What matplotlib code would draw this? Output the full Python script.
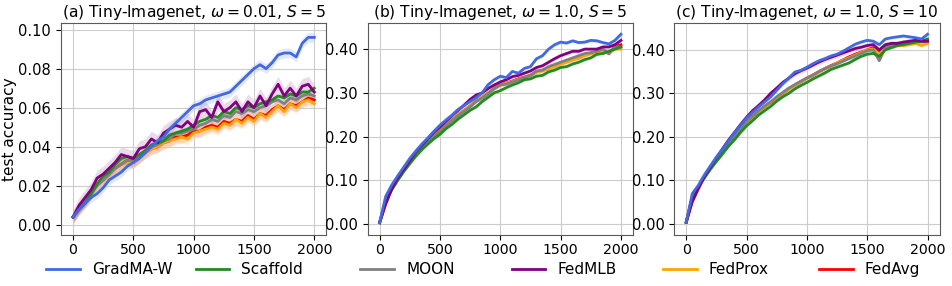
import numpy as np
import matplotlib.pyplot as plt

rounds = np.arange(0, 2001, 50)
names = ['GradMA-W', 'Scaffold', 'MOON', 'FedMLB', 'FedProx', 'FedAvg']
colors = ['royalblue', 'forestgreen', 'grey', 'purple', 'orange', 'red']
titles = [r'(a) Tiny-Imagenet, $\omega=0.01$, $S=5$',
          r'(b) Tiny-Imagenet, $\omega=1.0$, $S=5$',
          r'(c) Tiny-Imagenet, $\omega=1.0$, $S=10$']

# panel (a)
a_gradma = [0.004, 0.008, 0.011, 0.014, 0.016, 0.019, 0.023, 0.025, 0.027, 0.030, 0.032, 0.034, 0.037, 0.040,
            0.043, 0.045, 0.049, 0.052, 0.055, 0.058, 0.061, 0.062, 0.064, 0.065, 0.066, 0.067, 0.068, 0.071,
            0.074, 0.077, 0.080, 0.082, 0.080, 0.083, 0.087, 0.088, 0.088, 0.086, 0.093, 0.096, 0.096]
a_scaffold = [0.004, 0.008, 0.011, 0.016, 0.021, 0.025, 0.027, 0.031, 0.034, 0.035, 0.034, 0.036, 0.038, 0.041,
              0.042, 0.043, 0.046, 0.047, 0.048, 0.049, 0.051, 0.053, 0.054, 0.056, 0.055, 0.058, 0.057, 0.060,
              0.059, 0.061, 0.060, 0.062, 0.063, 0.064, 0.066, 0.065, 0.067, 0.066, 0.068, 0.068, 0.070]
a_moon = [0.004, 0.008, 0.012, 0.016, 0.020, 0.023, 0.026, 0.029, 0.031, 0.033, 0.033, 0.035, 0.038, 0.040,
          0.041, 0.043, 0.044, 0.047, 0.047, 0.048, 0.049, 0.051, 0.052, 0.054, 0.053, 0.056, 0.055, 0.058,
          0.057, 0.059, 0.058, 0.060, 0.061, 0.063, 0.064, 0.062, 0.065, 0.064, 0.066, 0.067, 0.066]
a_fedmlb = [0.004, 0.010, 0.014, 0.018, 0.024, 0.026, 0.029, 0.032, 0.036, 0.035, 0.034, 0.039, 0.040, 0.044,
            0.042, 0.047, 0.049, 0.051, 0.050, 0.053, 0.050, 0.058, 0.059, 0.055, 0.063, 0.058, 0.060, 0.063,
            0.058, 0.063, 0.060, 0.066, 0.061, 0.067, 0.072, 0.066, 0.070, 0.066, 0.071, 0.072, 0.068]
a_fedprox = [0.004, 0.008, 0.012, 0.016, 0.020, 0.023, 0.026, 0.029, 0.031, 0.032, 0.032, 0.034, 0.037, 0.039,
             0.040, 0.042, 0.043, 0.044, 0.045, 0.044, 0.047, 0.048, 0.049, 0.050, 0.049, 0.052, 0.051, 0.054,
             0.052, 0.055, 0.053, 0.057, 0.055, 0.058, 0.061, 0.058, 0.062, 0.060, 0.063, 0.064, 0.062]
a_fedavg = [0.004, 0.008, 0.012, 0.016, 0.021, 0.023, 0.026, 0.029, 0.031, 0.033, 0.032, 0.035, 0.037, 0.039,
            0.040, 0.042, 0.043, 0.045, 0.045, 0.046, 0.048, 0.048, 0.050, 0.051, 0.050, 0.053, 0.052, 0.054,
            0.053, 0.056, 0.054, 0.057, 0.056, 0.059, 0.061, 0.059, 0.062, 0.061, 0.063, 0.065, 0.064]

# panel (b)
b_gradma = [0.003, 0.063, 0.089, 0.110, 0.130, 0.150, 0.167, 0.183, 0.197, 0.212, 0.226, 0.238, 0.249, 0.262,
            0.271, 0.280, 0.289, 0.300, 0.319, 0.330, 0.338, 0.335, 0.349, 0.345, 0.356, 0.360, 0.378, 0.385,
            0.400, 0.410, 0.416, 0.414, 0.419, 0.415, 0.416, 0.420, 0.419, 0.415, 0.412, 0.420, 0.434]
b_scaffold = [0.003, 0.050, 0.078, 0.100, 0.120, 0.138, 0.155, 0.170, 0.183, 0.195, 0.205, 0.218, 0.228, 0.240,
              0.250, 0.260, 0.268, 0.280, 0.290, 0.300, 0.305, 0.312, 0.318, 0.323, 0.330, 0.332, 0.338, 0.340,
              0.348, 0.352, 0.358, 0.360, 0.366, 0.370, 0.376, 0.380, 0.388, 0.390, 0.395, 0.400, 0.405]
b_moon = [0.003, 0.052, 0.080, 0.103, 0.123, 0.142, 0.160, 0.175, 0.190, 0.200, 0.212, 0.225, 0.237, 0.248,
          0.258, 0.268, 0.280, 0.288, 0.298, 0.310, 0.318, 0.320, 0.325, 0.330, 0.335, 0.340, 0.350, 0.352,
          0.360, 0.365, 0.370, 0.375, 0.380, 0.385, 0.390, 0.392, 0.395, 0.400, 0.390, 0.405, 0.405]
b_fedmlb = [0.003, 0.045, 0.080, 0.105, 0.125, 0.145, 0.165, 0.180, 0.195, 0.210, 0.222, 0.235, 0.248, 0.260,
            0.272, 0.285, 0.295, 0.300, 0.310, 0.318, 0.325, 0.330, 0.337, 0.340, 0.345, 0.350, 0.358, 0.362,
            0.370, 0.378, 0.385, 0.390, 0.395, 0.395, 0.400, 0.400, 0.400, 0.405, 0.405, 0.410, 0.420]
b_fedprox = [0.003, 0.052, 0.080, 0.103, 0.123, 0.142, 0.160, 0.176, 0.190, 0.200, 0.213, 0.226, 0.238, 0.250,
             0.260, 0.270, 0.282, 0.290, 0.300, 0.310, 0.318, 0.322, 0.326, 0.331, 0.335, 0.340, 0.348, 0.350,
             0.355, 0.360, 0.366, 0.370, 0.375, 0.380, 0.385, 0.390, 0.390, 0.395, 0.392, 0.400, 0.400]
b_fedavg = [0.003, 0.052, 0.081, 0.104, 0.124, 0.143, 0.161, 0.176, 0.190, 0.202, 0.214, 0.226, 0.238, 0.250,
            0.260, 0.270, 0.282, 0.290, 0.300, 0.310, 0.318, 0.322, 0.327, 0.332, 0.336, 0.340, 0.348, 0.352,
            0.357, 0.362, 0.367, 0.372, 0.377, 0.380, 0.387, 0.390, 0.393, 0.398, 0.390, 0.405, 0.410]

# panel (c)
c_gradma = [0.003, 0.069, 0.088, 0.112, 0.133, 0.153, 0.171, 0.190, 0.209, 0.226, 0.243, 0.256, 0.269, 0.280,
            0.292, 0.307, 0.322, 0.335, 0.349, 0.353, 0.360, 0.368, 0.375, 0.380, 0.386, 0.390, 0.397, 0.405,
            0.413, 0.418, 0.422, 0.420, 0.412, 0.425, 0.428, 0.430, 0.432, 0.430, 0.428, 0.425, 0.436]
c_scaffold = [0.003, 0.060, 0.085, 0.105, 0.125, 0.143, 0.160, 0.178, 0.193, 0.210, 0.225, 0.237, 0.250, 0.260,
              0.270, 0.282, 0.292, 0.300, 0.310, 0.318, 0.325, 0.333, 0.340, 0.347, 0.355, 0.360, 0.365, 0.370,
              0.378, 0.385, 0.390, 0.392, 0.385, 0.400, 0.405, 0.410, 0.412, 0.415, 0.418, 0.420, 0.425]
c_moon = [0.003, 0.060, 0.085, 0.108, 0.128, 0.148, 0.165, 0.183, 0.200, 0.218, 0.235, 0.247, 0.260, 0.270,
          0.280, 0.292, 0.302, 0.312, 0.320, 0.328, 0.335, 0.342, 0.350, 0.357, 0.363, 0.368, 0.374, 0.380,
          0.386, 0.392, 0.398, 0.400, 0.375, 0.405, 0.410, 0.412, 0.415, 0.418, 0.418, 0.420, 0.420]
c_fedmlb = [0.003, 0.050, 0.080, 0.108, 0.130, 0.152, 0.172, 0.192, 0.210, 0.228, 0.245, 0.260, 0.272, 0.285,
            0.300, 0.312, 0.325, 0.335, 0.345, 0.352, 0.358, 0.365, 0.372, 0.378, 0.383, 0.388, 0.393, 0.398,
            0.403, 0.406, 0.410, 0.412, 0.400, 0.412, 0.415, 0.415, 0.418, 0.420, 0.422, 0.420, 0.420]
c_fedprox = [0.003, 0.060, 0.085, 0.108, 0.128, 0.148, 0.165, 0.183, 0.200, 0.217, 0.233, 0.246, 0.258, 0.268,
             0.280, 0.290, 0.300, 0.310, 0.318, 0.327, 0.335, 0.342, 0.350, 0.357, 0.363, 0.370, 0.376, 0.382,
             0.388, 0.394, 0.400, 0.402, 0.390, 0.405, 0.408, 0.410, 0.410, 0.412, 0.415, 0.410, 0.415]
c_fedavg = [0.003, 0.060, 0.085, 0.108, 0.128, 0.148, 0.166, 0.184, 0.200, 0.218, 0.234, 0.247, 0.259, 0.270,
            0.280, 0.290, 0.300, 0.310, 0.319, 0.327, 0.335, 0.342, 0.350, 0.357, 0.364, 0.370, 0.377, 0.384,
            0.390, 0.395, 0.400, 0.405, 0.392, 0.408, 0.410, 0.412, 0.414, 0.415, 0.418, 0.420, 0.420]

# half-width of the shaded band, per method
a_band = [0.0025, 0.0015, 0.0015, 0.004, 0.003, 0.003]
b_band = [0.004, 0.003, 0.003, 0.004, 0.004, 0.005]
c_band = [0.004, 0.003, 0.003, 0.006, 0.004, 0.005]

panels = [
    [a_gradma, a_scaffold, a_moon, a_fedmlb, a_fedprox, a_fedavg],
    [b_gradma, b_scaffold, b_moon, b_fedmlb, b_fedprox, b_fedavg],
    [c_gradma, c_scaffold, c_moon, c_fedmlb, c_fedprox, c_fedavg],
]
bands = [a_band, b_band, c_band]

plt.rcParams['font.size'] = 10.5
fig, axes = plt.subplots(1, 3, figsize=(9.52, 2.86), dpi=100)
fig.subplots_adjust(left=0.064, right=0.987, top=0.92, bottom=0.18, wspace=0.155)

for k, ax in enumerate(axes):
    # draw back to front so GradMA-W stays on top
    for i in [5, 4, 2, 1, 3, 0]:
        y = np.array(panels[k][i])
        ax.fill_between(rounds, y - bands[k][i], y + bands[k][i], color=colors[i], alpha=0.15, lw=0)
        ax.plot(rounds, y, color=colors[i], lw=2, label=names[i])
    ax.set_title(titles[k], fontsize=11.2, pad=4)
    ax.grid(True, color='0.8')
    ax.set_xticks([0, 500, 1000, 1500, 2000])
    ax.tick_params(axis='x', labelsize=10.2, pad=2.5)
    ax.yaxis.set_major_formatter(plt.FormatStrFormatter('%.2f'))
    for s in ax.spines.values():
        s.set_color('0.35')

axes[0].set_yticks([0.0, 0.02, 0.04, 0.06, 0.08, 0.10])
axes[1].set_yticks([0.0, 0.1, 0.2, 0.3, 0.4])
axes[2].set_yticks([0.0, 0.1, 0.2, 0.3, 0.4])
axes[0].set_ylabel('test accuracy', fontsize=11, labelpad=1)

# one legend entry per slot, evenly spread along the bottom
handles, labels = axes[0].get_legend_handles_labels()
slots = [0.034, 0.191, 0.364, 0.523, 0.682, 0.846]
for n, xs in zip(names, slots):
    h = handles[labels.index(n)]
    fig.legend([h], [n], loc='center left', bbox_to_anchor=(xs, 0.058), frameon=False,
               fontsize=11, handlelength=2.2)

fig.savefig('out.png')
